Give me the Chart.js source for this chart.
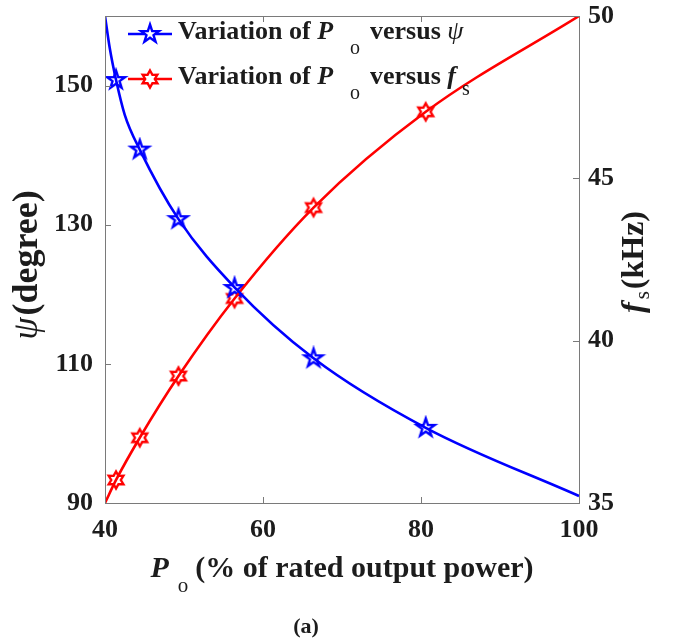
<!DOCTYPE html>
<html>
<head>
<meta charset="utf-8">
<script src="https://cdn.jsdelivr.net/npm/chart.js@4.4.1/dist/chart.umd.min.js"></script>
<style>
  html, body { margin: 0; padding: 0; background: #ffffff; }
  #wrap { width: 676px; height: 642px; position: relative; }
</style>
</head>
<body>
<div id="wrap"><canvas id="c" width="676" height="642"></canvas></div>
<script>
// Output power (% of rated) and the two control variables
const P_PSI_CURVE = [40, 40.6, 41.4, 42.5, 44.4, 49.3, 56.4, 66.4, 80.6, 100];
const PSI_CURVE   = [160, 155.4, 150.8, 145.8, 140.8, 130.8, 121.0, 110.8, 100.8, 91.0];

const P_FS_CURVE  = [40, 41.4, 44.4, 49.3, 56.4, 66.4, 80.6, 100];
const FS_CURVE    = [35.0, 35.71, 37.01, 38.91, 41.30, 44.10, 47.05, 50.0];

// Operating points marked on both curves
const P_MARK   = [41.4, 44.4, 49.3, 56.4, 66.4, 80.6];
const PSI_MARK = [150.8, 140.8, 130.8, 120.9, 110.8, 100.8];
const FS_MARK  = [35.71, 37.01, 38.91, 41.30, 44.10, 47.05];

// Axis ticks
const X_TICKS   = [40, 60, 80, 100];
const PSI_TICKS = [90, 110, 130, 150];
const FS_TICKS  = [35, 40, 45, 50];

const BLUE = '#0000ff';
const RED = '#ff0000';
const TEXT = '#1c1c1c';
const AXIS = '#7a7a7a';
const SERIF = "'Liberation Serif', 'Times New Roman', serif";

function pairs(xs, ys) { return xs.map((x, i) => ({ x: x, y: ys[i] })); }

// Hollow star markers (white face, coloured outline)
function starMarker(n, rOuter, rInner, color, lw) {
  const size = Math.ceil(2 * (rOuter + lw + 1));
  const cv = document.createElement('canvas');
  cv.width = size; cv.height = size;
  const g = cv.getContext('2d');
  const c = size / 2;
  g.beginPath();
  for (let i = 0; i < 2 * n; i++) {
    const r = i % 2 === 0 ? rOuter : rInner;
    const a = -Math.PI / 2 + i * Math.PI / n;
    const px = c + r * Math.cos(a), py = c + r * Math.sin(a);
    if (i === 0) g.moveTo(px, py); else g.lineTo(px, py);
  }
  g.closePath();
  g.fillStyle = '#ffffff';
  g.fill();
  g.lineJoin = 'miter';
  g.lineWidth = lw;
  g.strokeStyle = color;
  g.stroke();
  return cv;
}
const PENTAGRAM = starMarker(5, 9.5, 3.7, BLUE, 2.4);
const HEXAGRAM = starMarker(6, 8.5, 4.8, RED, 2.4);

// Draw a run of differently-styled text pieces on one baseline
function drawRich(ctx, segs, x, y, align) {
  let total = 0;
  segs.forEach(s => { ctx.font = s.font; s.w = ctx.measureText(s.text).width; total += (s.gap || 0) + s.w; });
  let cx = align === 'center' ? x - total / 2 : x;
  ctx.textAlign = 'left';
  ctx.textBaseline = 'alphabetic';
  segs.forEach(s => {
    cx += (s.gap || 0);
    ctx.font = s.font;
    ctx.fillText(s.text, cx, y + (s.dy || 0));
    cx += s.w;
  });
}

const fB = sz => 'bold ' + sz + 'px ' + SERIF;
const fBI = sz => 'italic bold ' + sz + 'px ' + SERIF;
const fI = sz => 'italic ' + sz + 'px ' + SERIF;
const fR = sz => sz + 'px ' + SERIF;

const decorations = {
  id: 'decorations',
  afterDatasetsDraw(chart) {
    const ctx = chart.ctx;
    const a = chart.chartArea;
    const xs = chart.scales.x, yl = chart.scales.y, yr = chart.scales.y2;
    ctx.save();
    ctx.strokeStyle = AXIS;
    ctx.lineWidth = 1;
    ctx.strokeRect(Math.round(a.left) + 0.5, Math.round(a.top) + 0.5,
                   Math.round(a.right - a.left), Math.round(a.bottom - a.top));
    const tl = 6;
    ctx.beginPath();
    X_TICKS.forEach(v => {
      const px = Math.round(xs.getPixelForValue(v)) + 0.5;
      ctx.moveTo(px, a.bottom); ctx.lineTo(px, a.bottom - tl);
      ctx.moveTo(px, a.top); ctx.lineTo(px, a.top + tl);
    });
    PSI_TICKS.forEach(v => {
      const py = Math.round(yl.getPixelForValue(v)) + 0.5;
      ctx.moveTo(a.left, py); ctx.lineTo(a.left + tl, py);
    });
    FS_TICKS.forEach(v => {
      const py = Math.round(yr.getPixelForValue(v)) + 0.5;
      ctx.moveTo(a.right, py); ctx.lineTo(a.right - tl, py);
    });
    ctx.stroke();
    ctx.restore();
  },
  afterDraw(chart) {
    const ctx = chart.ctx;
    const a = chart.chartArea;
    ctx.save();
    ctx.fillStyle = TEXT;

    // Legend
    const rows = [
      { color: BLUE, marker: PENTAGRAM, y: 34,
        segs: [ { text: 'Variation of ', font: fB(26) }, { text: 'P', font: fBI(26) },
                { text: 'o', font: fR(20), dy: 15, gap: 17 },
                { text: 'versus ', font: fB(26), gap: 10 }, { text: 'ψ', font: fI(26) } ] },
      { color: RED, marker: HEXAGRAM, y: 79,
        segs: [ { text: 'Variation of ', font: fB(26) }, { text: 'P', font: fBI(26) },
                { text: 'o', font: fR(20), dy: 15, gap: 17 },
                { text: 'versus ', font: fB(26), gap: 10 }, { text: 'f', font: fBI(26) },
                { text: 's', font: fR(20), dy: 11, gap: 6 } ] }
    ];
    rows.forEach(r => {
      ctx.strokeStyle = r.color;
      ctx.lineWidth = 2.6;
      ctx.beginPath();
      ctx.moveTo(128, r.y); ctx.lineTo(172, r.y);
      ctx.stroke();
      ctx.drawImage(r.marker, 150 - r.marker.width / 2, r.y - r.marker.height / 2);
      ctx.fillStyle = TEXT;
      drawRich(ctx, r.segs, 178, r.y + 5, 'left');
    });

    // x-axis title
    drawRich(ctx, [
      { text: 'P', font: fBI(30) },
      { text: 'o', font: fR(21), dy: 15, gap: 9 },
      { text: '(% of rated output power)', font: fB(30), gap: 7 }
    ], (a.left + a.right) / 2, 577, 'center');

    // left y-axis title
    ctx.save();
    ctx.translate(37, 265);
    ctx.rotate(-Math.PI / 2);
    drawRich(ctx, [
      { text: 'ψ', font: fI(36) },
      { text: '(degree)', font: fB(36), gap: 2 }
    ], 0, 0, 'center');
    ctx.restore();

    // right y-axis title
    ctx.save();
    ctx.translate(643, 262);
    ctx.rotate(-Math.PI / 2);
    drawRich(ctx, [
      { text: 'f', font: fBI(32) },
      { text: 's', font: fR(21), dy: 6, gap: 3 },
      { text: '(kHz)', font: fB(32), gap: 2 }
    ], 0, 0, 'center');
    ctx.restore();

    // panel label
    ctx.font = fB(22);
    ctx.textAlign = 'center';
    ctx.fillText('(a)', 306, 633);
    ctx.restore();
  }
};

const tickFont = { family: SERIF, size: 26, weight: 'bold' };

function fixVertical(width) {
  return s => { s.width = width; s.paddingTop = 0; s.paddingBottom = 0; };
}

new Chart(document.getElementById('c'), {
  type: 'line',
  data: {
    datasets: [
      { label: 'psi curve', data: pairs(P_PSI_CURVE, PSI_CURVE), yAxisID: 'y',
        borderColor: BLUE, borderWidth: 2.6, pointRadius: 0, cubicInterpolationMode: 'monotone', fill: false },
      { label: 'fs curve', data: pairs(P_FS_CURVE, FS_CURVE), yAxisID: 'y2',
        borderColor: RED, borderWidth: 2.6, pointRadius: 0, cubicInterpolationMode: 'monotone', fill: false },
      { label: 'psi points', data: pairs(P_MARK, PSI_MARK), yAxisID: 'y', showLine: false,
        pointStyle: PENTAGRAM, borderColor: BLUE },
      { label: 'fs points', data: pairs(P_MARK, FS_MARK), yAxisID: 'y2', showLine: false,
        pointStyle: HEXAGRAM, borderColor: RED }
    ]
  },
  options: {
    responsive: false,
    devicePixelRatio: 1,
    animation: false,
    layout: { padding: { top: 16, left: 0, right: 0, bottom: 0 } },
    plugins: { legend: { display: false }, tooltip: { enabled: false } },
    scales: {
      x: {
        type: 'linear', min: 40, max: 100,
        afterBuildTicks: s => { s.ticks = X_TICKS.map(v => ({ value: v })); },
        afterFit: s => { s.height = 139; s.paddingLeft = 0; s.paddingRight = 0; },
        grid: { display: false, drawTicks: false },
        border: { display: false },
        ticks: { font: tickFont, color: TEXT, padding: 12, maxRotation: 0 }
      },
      y: {
        type: 'linear', position: 'left', min: 90, max: 160,
        afterBuildTicks: s => { s.ticks = PSI_TICKS.map(v => ({ value: v })); },
        afterFit: fixVertical(105),
        grid: { display: false, drawTicks: false },
        border: { display: false },
        ticks: { font: tickFont, color: TEXT, padding: 12 }
      },
      y2: {
        type: 'linear', position: 'right', min: 35, max: 50,
        afterBuildTicks: s => { s.ticks = FS_TICKS.map(v => ({ value: v })); },
        afterFit: fixVertical(97),
        grid: { display: false, drawTicks: false },
        border: { display: false },
        ticks: { font: tickFont, color: TEXT, padding: 9 }
      }
    }
  },
  plugins: [decorations]
});
</script>
</body>
</html>
